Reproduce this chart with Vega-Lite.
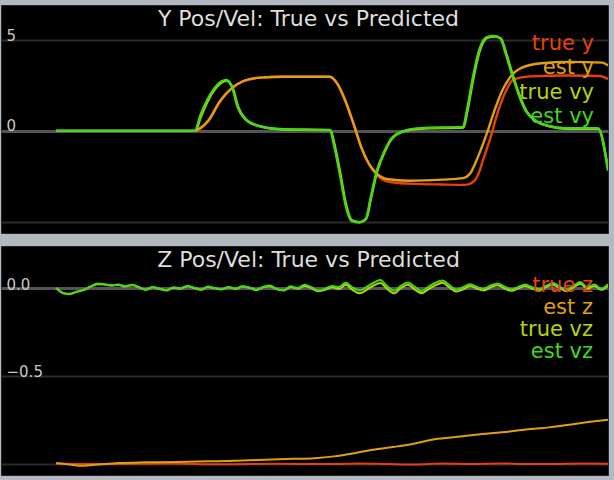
{
  "$schema": "https://vega.github.io/schema/vega-lite/v6.json",
  "background": "#b4b8c2",
  "padding": {"top": 4, "left": 0, "right": 7, "bottom": 8},
  "spacing": 11,
  "config": {
    "view": {"fill": "#000000", "stroke": "#262626", "strokeWidth": 1},
    "font": "DejaVu Sans",
    "title": {"color": "#dedede", "fontSize": 22, "fontWeight": "normal", "font": "DejaVu Sans", "anchor": "middle", "offset": -26, "baseline": "alphabetic", "dx": 4},
    "axis": {"ticks": false, "domain": false, "grid": true, "labelAlign": "left", "labelPadding": -5, "labelBaseline": "alphabetic", "labelColor": "#c8c8c8", "labelFontSize": 15, "labelFont": "DejaVu Sans", "title": null}
  },
  "resolve": {"scale": {"color": "independent", "y": "independent", "x": "independent"}, "legend": {"color": "independent"}},
  "vconcat": [
    {
      "width": 607,
      "height": 228,
      "title": "Y Pos/Vel: True vs Predicted",
      "data": {"values": [
        {"s": "true y", "t": 0, "v": 0}, {"s": "true y", "t": 2.5, "v": 0}, {"s": "true y", "t": 2.62, "v": 0.15}, {"s": "true y", "t": 2.76, "v": 0.55}, {"s": "true y", "t": 2.97, "v": 1.62}, {"s": "true y", "t": 3.19, "v": 2.35}, {"s": "true y", "t": 3.4, "v": 2.74}, {"s": "true y", "t": 3.68, "v": 2.92}, {"s": "true y", "t": 4.11, "v": 2.98}, {"s": "true y", "t": 4.96, "v": 2.98}, {"s": "true y", "t": 5.1, "v": 2.58}, {"s": "true y", "t": 5.24, "v": 1.68}, {"s": "true y", "t": 5.39, "v": 0.4}, {"s": "true y", "t": 5.53, "v": -0.9}, {"s": "true y", "t": 5.67, "v": -1.85}, {"s": "true y", "t": 5.81, "v": -2.42}, {"s": "true y", "t": 6.02, "v": -2.8}, {"s": "true y", "t": 6.38, "v": -2.9}, {"s": "true y", "t": 7.0, "v": -2.95}, {"s": "true y", "t": 7.42, "v": -2.97}, {"s": "true y", "t": 7.56, "v": -2.8}, {"s": "true y", "t": 7.66, "v": -2.3}, {"s": "true y", "t": 7.73, "v": -1.65}, {"s": "true y", "t": 7.87, "v": -0.37}, {"s": "true y", "t": 8.01, "v": 1.1}, {"s": "true y", "t": 8.15, "v": 2.2}, {"s": "true y", "t": 8.29, "v": 2.84}, {"s": "true y", "t": 8.58, "v": 3.0}, {"s": "true y", "t": 9.29, "v": 3.05}, {"s": "true y", "t": 9.85, "v": 3.02}, {"s": "true y", "t": 10, "v": 2.85},
        {"s": "est y", "t": 0, "v": 0}, {"s": "est y", "t": 2.5, "v": 0}, {"s": "est y", "t": 2.62, "v": 0.17}, {"s": "est y", "t": 2.76, "v": 0.58}, {"s": "est y", "t": 2.97, "v": 1.65}, {"s": "est y", "t": 3.19, "v": 2.38}, {"s": "est y", "t": 3.4, "v": 2.76}, {"s": "est y", "t": 3.68, "v": 2.93}, {"s": "est y", "t": 4.11, "v": 2.98}, {"s": "est y", "t": 4.96, "v": 2.98}, {"s": "est y", "t": 5.1, "v": 2.56}, {"s": "est y", "t": 5.24, "v": 1.65}, {"s": "est y", "t": 5.39, "v": 0.37}, {"s": "est y", "t": 5.53, "v": -0.92}, {"s": "est y", "t": 5.67, "v": -1.82}, {"s": "est y", "t": 5.81, "v": -2.35}, {"s": "est y", "t": 6.02, "v": -2.66}, {"s": "est y", "t": 6.38, "v": -2.74}, {"s": "est y", "t": 7.0, "v": -2.68}, {"s": "est y", "t": 7.37, "v": -2.6}, {"s": "est y", "t": 7.5, "v": -2.35}, {"s": "est y", "t": 7.62, "v": -1.6}, {"s": "est y", "t": 7.8, "v": -0.18}, {"s": "est y", "t": 7.94, "v": 1.1}, {"s": "est y", "t": 8.08, "v": 2.2}, {"s": "est y", "t": 8.22, "v": 2.93}, {"s": "est y", "t": 8.44, "v": 3.48}, {"s": "est y", "t": 8.79, "v": 3.72}, {"s": "est y", "t": 9.29, "v": 3.8}, {"s": "est y", "t": 9.9, "v": 3.76}, {"s": "est y", "t": 10, "v": 3.6},
        {"s": "true vy", "t": 0, "v": 0}, {"s": "true vy", "t": 2.52, "v": 0}, {"s": "true vy", "t": 2.63, "v": 0.85}, {"s": "true vy", "t": 2.77, "v": 1.78}, {"s": "true vy", "t": 2.91, "v": 2.42}, {"s": "true vy", "t": 3.09, "v": 2.76}, {"s": "true vy", "t": 3.2, "v": 2.36}, {"s": "true vy", "t": 3.3, "v": 1.3}, {"s": "true vy", "t": 3.44, "v": 0.62}, {"s": "true vy", "t": 3.69, "v": 0.25}, {"s": "true vy", "t": 4.12, "v": 0.08}, {"s": "true vy", "t": 4.97, "v": 0.04}, {"s": "true vy", "t": 5.04, "v": -0.7}, {"s": "true vy", "t": 5.15, "v": -2.35}, {"s": "true vy", "t": 5.25, "v": -4.0}, {"s": "true vy", "t": 5.36, "v": -4.93}, {"s": "true vy", "t": 5.5, "v": -5.02}, {"s": "true vy", "t": 5.62, "v": -4.83}, {"s": "true vy", "t": 5.71, "v": -3.64}, {"s": "true vy", "t": 5.82, "v": -2.2}, {"s": "true vy", "t": 5.96, "v": -1.1}, {"s": "true vy", "t": 6.1, "v": -0.38}, {"s": "true vy", "t": 6.32, "v": 0}, {"s": "true vy", "t": 6.6, "v": 0.12}, {"s": "true vy", "t": 7.38, "v": 0.18}, {"s": "true vy", "t": 7.45, "v": 1.05}, {"s": "true vy", "t": 7.56, "v": 2.88}, {"s": "true vy", "t": 7.67, "v": 4.35}, {"s": "true vy", "t": 7.81, "v": 5.12}, {"s": "true vy", "t": 7.95, "v": 5.2}, {"s": "true vy", "t": 8.06, "v": 5.08}, {"s": "true vy", "t": 8.16, "v": 4.22}, {"s": "true vy", "t": 8.27, "v": 3.12}, {"s": "true vy", "t": 8.38, "v": 2.1}, {"s": "true vy", "t": 8.52, "v": 1.1}, {"s": "true vy", "t": 8.66, "v": 0.62}, {"s": "true vy", "t": 8.94, "v": 0.25}, {"s": "true vy", "t": 9.23, "v": 0.12}, {"s": "true vy", "t": 9.82, "v": 0.12}, {"s": "true vy", "t": 10, "v": -2.1},
        {"s": "est vy", "t": 0, "v": 0}, {"s": "est vy", "t": 2.51, "v": 0}, {"s": "est vy", "t": 2.62, "v": 0.92}, {"s": "est vy", "t": 2.76, "v": 1.83}, {"s": "est vy", "t": 2.9, "v": 2.47}, {"s": "est vy", "t": 3.08, "v": 2.8}, {"s": "est vy", "t": 3.19, "v": 2.38}, {"s": "est vy", "t": 3.29, "v": 1.28}, {"s": "est vy", "t": 3.43, "v": 0.64}, {"s": "est vy", "t": 3.68, "v": 0.27}, {"s": "est vy", "t": 4.11, "v": 0.09}, {"s": "est vy", "t": 4.96, "v": 0.05}, {"s": "est vy", "t": 5.03, "v": -0.73}, {"s": "est vy", "t": 5.14, "v": -2.38}, {"s": "est vy", "t": 5.24, "v": -4.03}, {"s": "est vy", "t": 5.35, "v": -4.95}, {"s": "est vy", "t": 5.49, "v": -5.04}, {"s": "est vy", "t": 5.61, "v": -4.85}, {"s": "est vy", "t": 5.7, "v": -3.66}, {"s": "est vy", "t": 5.81, "v": -2.2}, {"s": "est vy", "t": 5.95, "v": -1.1}, {"s": "est vy", "t": 6.09, "v": -0.37}, {"s": "est vy", "t": 6.31, "v": 0}, {"s": "est vy", "t": 6.59, "v": 0.15}, {"s": "est vy", "t": 7.37, "v": 0.22}, {"s": "est vy", "t": 7.44, "v": 1.1}, {"s": "est vy", "t": 7.55, "v": 2.93}, {"s": "est vy", "t": 7.66, "v": 4.4}, {"s": "est vy", "t": 7.8, "v": 5.16}, {"s": "est vy", "t": 7.94, "v": 5.22}, {"s": "est vy", "t": 8.05, "v": 5.09}, {"s": "est vy", "t": 8.15, "v": 4.21}, {"s": "est vy", "t": 8.26, "v": 3.11}, {"s": "est vy", "t": 8.37, "v": 2.1}, {"s": "est vy", "t": 8.51, "v": 1.1}, {"s": "est vy", "t": 8.65, "v": 0.64}, {"s": "est vy", "t": 8.93, "v": 0.27}, {"s": "est vy", "t": 9.22, "v": 0.15}, {"s": "est vy", "t": 9.82, "v": 0.15}, {"s": "est vy", "t": 10, "v": -2.2}
      ]},
      "mark": {"type": "line", "interpolate": "monotone", "strokeWidth": 2.4, "clip": true},
      "encoding": {
        "x": {"field": "t", "type": "quantitative", "scale": {"domain": [-1.0, 10], "nice": false, "zero": false}, "axis": null},
        "y": {"field": "v", "type": "quantitative", "scale": {"domain": [-5.62, 6.93], "nice": false, "zero": false},
          "axis": {"values": [-5, 0, 5], "labelExpr": "datum.value < -4 ? '' : datum.label",
            "gridColor": {"condition": {"test": "datum.value === 0", "value": "#555555"}, "value": "#2c2c2c"},
            "gridWidth": {"condition": {"test": "datum.value === 0", "value": 3}, "value": 2}}},
        "color": {"field": "s", "type": "nominal", "sort": ["true y", "est y", "true vy", "est vy"],
          "scale": {"domain": ["true y", "est y", "true vy", "est vy"], "range": ["#e8400c", "#e0a010", "#b4d40c", "#44d81a"]},
          "legend": {"orient": "none", "legendX": 572, "legendY": 28, "title": null, "padding": 0, "symbolSize": 0, "symbolOpacity": 0, "symbolStrokeWidth": 0, "labelFontSize": 21, "labelFont": "DejaVu Sans", "labelAlign": "right", "labelOffset": 0, "rowPadding": 2.5,
            "encode": {"labels": {"update": {"fill": {"signal": "datum.value === 'true y' ? '#e8400c' : datum.value === 'est y' ? '#e0a010' : datum.value === 'true vy' ? '#b4d40c' : '#44d81a'"}}}}}
        }
      }
    },
    {
      "width": 607,
      "height": 229,
      "title": "Z Pos/Vel: True vs Predicted",
      "data": {"values": [
        {"s": "true z", "t": 0, "v": -1.0}, {"s": "true z", "t": 1, "v": -1.002}, {"s": "true z", "t": 2, "v": -0.999}, {"s": "true z", "t": 3, "v": -1.003}, {"s": "true z", "t": 4, "v": -1.0}, {"s": "true z", "t": 5, "v": -1.002}, {"s": "true z", "t": 5.5, "v": -0.998}, {"s": "true z", "t": 6, "v": -1.001}, {"s": "true z", "t": 6.5, "v": -1.004}, {"s": "true z", "t": 7, "v": -0.999}, {"s": "true z", "t": 7.5, "v": -1.002}, {"s": "true z", "t": 8, "v": -0.998}, {"s": "true z", "t": 8.5, "v": -1.001}, {"s": "true z", "t": 9, "v": -1.002}, {"s": "true z", "t": 9.5, "v": -0.999}, {"s": "true z", "t": 10, "v": -1.0},
        {"s": "est z", "t": 0, "v": -0.996}, {"s": "est z", "t": 0.25, "v": -1.005}, {"s": "est z", "t": 0.42, "v": -1.011}, {"s": "est z", "t": 0.7, "v": -1.006}, {"s": "est z", "t": 1.13, "v": -0.996}, {"s": "est z", "t": 1.6, "v": -0.992}, {"s": "est z", "t": 2.2, "v": -0.99}, {"s": "est z", "t": 2.8, "v": -0.986}, {"s": "est z", "t": 3.26, "v": -0.983}, {"s": "est z", "t": 3.9, "v": -0.976}, {"s": "est z", "t": 4.3, "v": -0.972}, {"s": "est z", "t": 4.68, "v": -0.968}, {"s": "est z", "t": 5.03, "v": -0.958}, {"s": "est z", "t": 5.4, "v": -0.94}, {"s": "est z", "t": 5.74, "v": -0.92}, {"s": "est z", "t": 6.1, "v": -0.905}, {"s": "est z", "t": 6.5, "v": -0.885}, {"s": "est z", "t": 6.81, "v": -0.863}, {"s": "est z", "t": 7.16, "v": -0.85}, {"s": "est z", "t": 7.6, "v": -0.835}, {"s": "est z", "t": 8.22, "v": -0.816}, {"s": "est z", "t": 8.6, "v": -0.802}, {"s": "est z", "t": 8.93, "v": -0.793}, {"s": "est z", "t": 9.3, "v": -0.778}, {"s": "est z", "t": 9.64, "v": -0.763}, {"s": "est z", "t": 10, "v": -0.749},
        {"s": "true vz", "t": 0, "v": 0.0}, {"s": "true vz", "t": 0.125, "v": -0.028}, {"s": "true vz", "t": 0.25, "v": -0.033}, {"s": "true vz", "t": 0.375, "v": -0.022}, {"s": "true vz", "t": 0.5, "v": -0.012}, {"s": "true vz", "t": 0.625, "v": 0.008}, {"s": "true vz", "t": 0.75, "v": 0.022}, {"s": "true vz", "t": 0.875, "v": 0.02}, {"s": "true vz", "t": 1.0, "v": 0.014}, {"s": "true vz", "t": 1.125, "v": 0.018}, {"s": "true vz", "t": 1.25, "v": 0.008}, {"s": "true vz", "t": 1.375, "v": 0.016}, {"s": "true vz", "t": 1.5, "v": 0.004}, {"s": "true vz", "t": 1.625, "v": -0.01}, {"s": "true vz", "t": 1.75, "v": 0.004}, {"s": "true vz", "t": 1.875, "v": -0.006}, {"s": "true vz", "t": 2.0, "v": -0.014}, {"s": "true vz", "t": 2.125, "v": 0.002}, {"s": "true vz", "t": 2.25, "v": -0.004}, {"s": "true vz", "t": 2.375, "v": 0.01}, {"s": "true vz", "t": 2.5, "v": 0.0}, {"s": "true vz", "t": 2.625, "v": -0.01}, {"s": "true vz", "t": 2.75, "v": 0.006}, {"s": "true vz", "t": 2.875, "v": -0.002}, {"s": "true vz", "t": 3.0, "v": -0.008}, {"s": "true vz", "t": 3.125, "v": 0.004}, {"s": "true vz", "t": 3.25, "v": -0.006}, {"s": "true vz", "t": 3.375, "v": 0.008}, {"s": "true vz", "t": 3.5, "v": 0.001}, {"s": "true vz", "t": 3.625, "v": -0.012}, {"s": "true vz", "t": 3.75, "v": 0.004}, {"s": "true vz", "t": 3.875, "v": 0.01}, {"s": "true vz", "t": 4.0, "v": -0.008}, {"s": "true vz", "t": 4.125, "v": -0.014}, {"s": "true vz", "t": 4.25, "v": 0.006}, {"s": "true vz", "t": 4.375, "v": -0.004}, {"s": "true vz", "t": 4.5, "v": 0.012}, {"s": "true vz", "t": 4.625, "v": -0.002}, {"s": "true vz", "t": 4.75, "v": -0.018}, {"s": "true vz", "t": 4.875, "v": -0.01}, {"s": "true vz", "t": 5.0, "v": 0.004}, {"s": "true vz", "t": 5.125, "v": -0.006}, {"s": "true vz", "t": 5.25, "v": 0.018}, {"s": "true vz", "t": 5.375, "v": -0.012}, {"s": "true vz", "t": 5.5, "v": -0.03}, {"s": "true vz", "t": 5.625, "v": -0.01}, {"s": "true vz", "t": 5.75, "v": 0.014}, {"s": "true vz", "t": 5.875, "v": 0.028}, {"s": "true vz", "t": 6.0, "v": -0.006}, {"s": "true vz", "t": 6.125, "v": -0.03}, {"s": "true vz", "t": 6.25, "v": 0.0}, {"s": "true vz", "t": 6.375, "v": 0.018}, {"s": "true vz", "t": 6.5, "v": -0.01}, {"s": "true vz", "t": 6.625, "v": -0.03}, {"s": "true vz", "t": 6.75, "v": -0.006}, {"s": "true vz", "t": 6.875, "v": 0.016}, {"s": "true vz", "t": 7.0, "v": 0.03}, {"s": "true vz", "t": 7.125, "v": 0.004}, {"s": "true vz", "t": 7.25, "v": -0.02}, {"s": "true vz", "t": 7.375, "v": -0.008}, {"s": "true vz", "t": 7.5, "v": 0.012}, {"s": "true vz", "t": 7.625, "v": -0.004}, {"s": "true vz", "t": 7.75, "v": -0.014}, {"s": "true vz", "t": 7.875, "v": 0.004}, {"s": "true vz", "t": 8.0, "v": 0.016}, {"s": "true vz", "t": 8.125, "v": -0.002}, {"s": "true vz", "t": 8.25, "v": -0.016}, {"s": "true vz", "t": 8.375, "v": -0.002}, {"s": "true vz", "t": 8.5, "v": 0.012}, {"s": "true vz", "t": 8.625, "v": -0.004}, {"s": "true vz", "t": 8.75, "v": -0.014}, {"s": "true vz", "t": 8.875, "v": 0.004}, {"s": "true vz", "t": 9.0, "v": 0.018}, {"s": "true vz", "t": 9.125, "v": 0.0}, {"s": "true vz", "t": 9.25, "v": -0.018}, {"s": "true vz", "t": 9.375, "v": 0.004}, {"s": "true vz", "t": 9.5, "v": 0.024}, {"s": "true vz", "t": 9.625, "v": -0.004}, {"s": "true vz", "t": 9.75, "v": 0.012}, {"s": "true vz", "t": 9.875, "v": -0.01}, {"s": "true vz", "t": 10.0, "v": 0.014},
        {"s": "est vz", "t": 0, "v": 0.0}, {"s": "est vz", "t": 0.125, "v": -0.03}, {"s": "est vz", "t": 0.25, "v": -0.035}, {"s": "est vz", "t": 0.375, "v": -0.02}, {"s": "est vz", "t": 0.5, "v": -0.01}, {"s": "est vz", "t": 0.625, "v": 0.01}, {"s": "est vz", "t": 0.75, "v": 0.025}, {"s": "est vz", "t": 0.875, "v": 0.022}, {"s": "est vz", "t": 1.0, "v": 0.015}, {"s": "est vz", "t": 1.125, "v": 0.02}, {"s": "est vz", "t": 1.25, "v": 0.01}, {"s": "est vz", "t": 1.375, "v": 0.018}, {"s": "est vz", "t": 1.5, "v": 0.005}, {"s": "est vz", "t": 1.625, "v": -0.008}, {"s": "est vz", "t": 1.75, "v": 0.006}, {"s": "est vz", "t": 1.875, "v": -0.004}, {"s": "est vz", "t": 2.0, "v": -0.012}, {"s": "est vz", "t": 2.125, "v": 0.004}, {"s": "est vz", "t": 2.25, "v": -0.002}, {"s": "est vz", "t": 2.375, "v": 0.012}, {"s": "est vz", "t": 2.5, "v": 0.002}, {"s": "est vz", "t": 2.625, "v": -0.008}, {"s": "est vz", "t": 2.75, "v": 0.008}, {"s": "est vz", "t": 2.875, "v": 0.0}, {"s": "est vz", "t": 3.0, "v": -0.006}, {"s": "est vz", "t": 3.125, "v": 0.006}, {"s": "est vz", "t": 3.25, "v": -0.004}, {"s": "est vz", "t": 3.375, "v": 0.01}, {"s": "est vz", "t": 3.5, "v": 0.003}, {"s": "est vz", "t": 3.625, "v": -0.01}, {"s": "est vz", "t": 3.75, "v": 0.006}, {"s": "est vz", "t": 3.875, "v": 0.014}, {"s": "est vz", "t": 4.0, "v": -0.006}, {"s": "est vz", "t": 4.125, "v": -0.012}, {"s": "est vz", "t": 4.25, "v": 0.01}, {"s": "est vz", "t": 4.375, "v": 0.0}, {"s": "est vz", "t": 4.5, "v": 0.018}, {"s": "est vz", "t": 4.625, "v": 0.004}, {"s": "est vz", "t": 4.75, "v": -0.014}, {"s": "est vz", "t": 4.875, "v": -0.004}, {"s": "est vz", "t": 5.0, "v": 0.012}, {"s": "est vz", "t": 5.125, "v": 0.006}, {"s": "est vz", "t": 5.25, "v": 0.03}, {"s": "est vz", "t": 5.375, "v": 0.002}, {"s": "est vz", "t": 5.5, "v": -0.014}, {"s": "est vz", "t": 5.625, "v": 0.006}, {"s": "est vz", "t": 5.75, "v": 0.03}, {"s": "est vz", "t": 5.875, "v": 0.045}, {"s": "est vz", "t": 6.0, "v": 0.01}, {"s": "est vz", "t": 6.125, "v": -0.016}, {"s": "est vz", "t": 6.25, "v": 0.014}, {"s": "est vz", "t": 6.375, "v": 0.032}, {"s": "est vz", "t": 6.5, "v": 0.006}, {"s": "est vz", "t": 6.625, "v": -0.018}, {"s": "est vz", "t": 6.75, "v": 0.008}, {"s": "est vz", "t": 6.875, "v": 0.03}, {"s": "est vz", "t": 7.0, "v": 0.042}, {"s": "est vz", "t": 7.125, "v": 0.016}, {"s": "est vz", "t": 7.25, "v": -0.01}, {"s": "est vz", "t": 7.375, "v": 0.004}, {"s": "est vz", "t": 7.5, "v": 0.022}, {"s": "est vz", "t": 7.625, "v": 0.006}, {"s": "est vz", "t": 7.75, "v": -0.004}, {"s": "est vz", "t": 7.875, "v": 0.014}, {"s": "est vz", "t": 8.0, "v": 0.026}, {"s": "est vz", "t": 8.125, "v": 0.008}, {"s": "est vz", "t": 8.25, "v": -0.008}, {"s": "est vz", "t": 8.375, "v": 0.006}, {"s": "est vz", "t": 8.5, "v": 0.02}, {"s": "est vz", "t": 8.625, "v": 0.004}, {"s": "est vz", "t": 8.75, "v": -0.006}, {"s": "est vz", "t": 8.875, "v": 0.012}, {"s": "est vz", "t": 9.0, "v": 0.028}, {"s": "est vz", "t": 9.125, "v": 0.008}, {"s": "est vz", "t": 9.25, "v": -0.01}, {"s": "est vz", "t": 9.375, "v": 0.012}, {"s": "est vz", "t": 9.5, "v": 0.034}, {"s": "est vz", "t": 9.625, "v": 0.004}, {"s": "est vz", "t": 9.75, "v": 0.02}, {"s": "est vz", "t": 9.875, "v": -0.004}, {"s": "est vz", "t": 10.0, "v": 0.022}
      ]},
      "mark": {"type": "line", "interpolate": "monotone", "strokeWidth": 2, "clip": true},
      "encoding": {
        "x": {"field": "t", "type": "quantitative", "scale": {"domain": [-1.0, 10], "nice": false, "zero": false}, "axis": null},
        "y": {"field": "v", "type": "quantitative", "scale": {"domain": [-1.064, 0.239], "nice": false, "zero": false},
          "axis": {"values": [-1, -0.5, 0], "format": ".1f", "labelOffset": 1, "labelExpr": "datum.value < -0.9 ? '' : datum.label",
            "gridColor": {"condition": {"test": "datum.value === 0", "value": "#555555"}, "value": "#2c2c2c"},
            "gridWidth": {"condition": {"test": "datum.value === 0", "value": 3}, "value": 2}}},
        "color": {"field": "s", "type": "nominal", "sort": ["true z", "est z", "true vz", "est vz"],
          "scale": {"domain": ["true z", "est z", "true vz", "est vz"], "range": ["#e8400c", "#e0a010", "#b4d40c", "#44d81a"]},
          "legend": {"orient": "none", "legendX": 571, "legendY": 29, "title": null, "padding": 0, "symbolSize": 0, "symbolOpacity": 0, "symbolStrokeWidth": 0, "labelFontSize": 21, "labelFont": "DejaVu Sans", "labelAlign": "right", "labelOffset": 0, "rowPadding": 0,
            "encode": {"labels": {"update": {"fill": {"signal": "datum.value === 'true z' ? '#e8400c' : datum.value === 'est z' ? '#e0a010' : datum.value === 'true vz' ? '#b4d40c' : '#44d81a'"}}}}}
        }
      }
    }
  ]
}
